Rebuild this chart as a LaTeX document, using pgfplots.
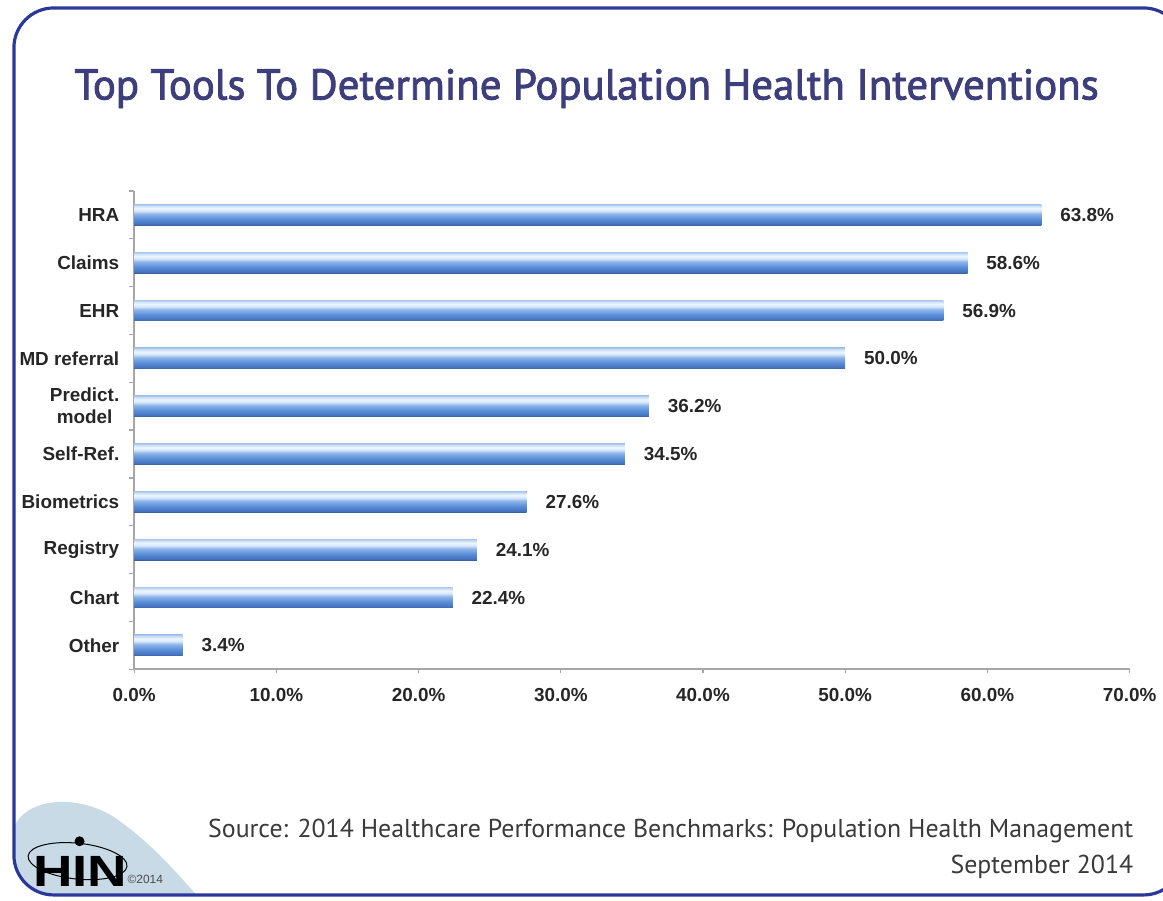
\documentclass[border=0pt]{standalone}
\usepackage{pgfplots}
\pgfplotsset{compat=1.18}
\usepackage{fontspec}
\setmainfont{Liberation Sans}
\newfontfamily\titlefont[FakeBold=2]{PT Sans}
\newfontfamily\srcfont{PT Sans}
\definecolor{frameblue}{HTML}{2B389A}
\definecolor{titleblue}{HTML}{3F3E7C}
\definecolor{srcgray}{HTML}{3A3A3A}
\definecolor{axisgray}{HTML}{A6A6A6}
\definecolor{logoblue}{HTML}{C8DAE5}
\definecolor{sA}{HTML}{3B5E9A}
\definecolor{sB}{HTML}{4472C0}
\definecolor{sC}{HTML}{5C8FD8}
\definecolor{sD}{HTML}{8CB4EA}
\definecolor{sE}{HTML}{D8E8FA}
\definecolor{sF}{HTML}{EEF5FD}
\definecolor{sG}{HTML}{C5DBF5}
\definecolor{sH}{HTML}{A9C7EE}
\pgfdeclareverticalshading{barshade}{100bp}{color(0bp)=(sA); color(25bp)=(sA); color(28bp)=(sB); color(40bp)=(sC); color(52bp)=(sD); color(60bp)=(sE); color(66bp)=(sF); color(72bp)=(sG); color(75bp)=(sH); color(100bp)=(sH)}
\begin{document}
\begin{tikzpicture}
\begin{scope}[x=0.5pt,y=-0.5pt]
\useasboundingbox (0,0) rectangle (1163,906);
\begin{scope}
\clip[rounded corners=20pt] (14,8) rectangle (1190,900);
\fill[logoblue] (14,832) .. controls (24,806) and (70,796) .. (112,820) .. controls (150,845) and (178,878) .. (202,905) -- (14,905) -- cycle;
\end{scope}
\draw[frameblue, line width=1.6pt, rounded corners=20pt] (14,8) rectangle (1190,900);
\node[anchor=base, inner sep=0, text=titleblue] at (590,100) {\resizebox{515pt}{!}{\titlefont\fontsize{25}{30}\selectfont Top Tools To Determine Population Health Interventions}};
\node[anchor=base east, inner sep=0, font=\srcfont\fontsize{13}{16}\selectfont, text=srcgray] at (1140,842) {Source: 2014 Healthcare Performance Benchmarks: Population Health Management};
\node[anchor=base east, inner sep=0, font=\srcfont\fontsize{13}{16}\selectfont, text=srcgray] at (1140,878) {September 2014};
\draw[black, line width=0.5pt, rotate around={-6:(78,866)}] (78,866) ellipse (25pt and 9pt);
\fill[black] (80,846) circle (2.5pt);
\node[anchor=base west, inner sep=0, font=\bfseries\fontsize{22}{22}\selectfont] at (33,892) {\scalebox{1.25}[1]{HIN}};
\node[anchor=base west, inner sep=0, font=\fontsize{6}{7}\selectfont, text=black!70] at (128,888) {\textcopyright 2014};
\end{scope}
\begin{axis}[
  at={(67.5pt,-336.5pt)}, anchor=south west,
  scale only axis, width=500.5pt, height=240.5pt,
  xbar, bar width=10.5pt, bar shift=0pt,
  xmin=0, xmax=70, ymin=-0.5, ymax=9.5,
  axis x line*=bottom, axis y line*=left,
  axis line style={draw=axisgray, line width=0.9pt, -},
  xtick={0,10,...,70},
  xticklabels={0.0\%,10.0\%,20.0\%,30.0\%,40.0\%,50.0\%,60.0\%,70.0\%},
  ytick={0,...,9},
  yticklabels={Other,Chart,Registry,Biometrics,Self-Ref.,{Predict.\\model},MD referral,EHR,Claims,HRA},
  minor ytick={-0.5,0.5,...,9.5},
  tick align=outside,
  major tick length=2pt, minor tick length=2.5pt,
  x tick style={draw=axisgray, line width=0.6pt},
  y tick style={draw=none},
  minor y tick style={draw=axisgray, line width=0.6pt},
  ticklabel style={font=\bfseries\fontsize{9.5}{11}\selectfont, text=black!85},
  yticklabel style={align=center, xshift=-2pt},
  xticklabel style={yshift=-4pt},
  /pgf/number format/assume math mode=true,
  nodes near coords={\pgfmathprintnumber[fixed,fixed zerofill,precision=1]{\pgfplotspointmeta}\%},
  nodes near coords style={font=\bfseries\fontsize{9.5}{11}\selectfont, text=black!85, anchor=west, xshift=6pt},
  every axis plot/.append style={draw=none, shading=barshade},
  clip=false,
]
\addplot coordinates {(3.4,0)};
\addplot coordinates {(22.4,1)};
\addplot coordinates {(24.1,2)};
\addplot coordinates {(27.6,3)};
\addplot coordinates {(34.5,4)};
\addplot coordinates {(36.2,5)};
\addplot coordinates {(50.0,6)};
\addplot coordinates {(56.9,7)};
\addplot coordinates {(58.6,8)};
\addplot coordinates {(63.8,9)};
\end{axis}
\end{tikzpicture}
\end{document}
